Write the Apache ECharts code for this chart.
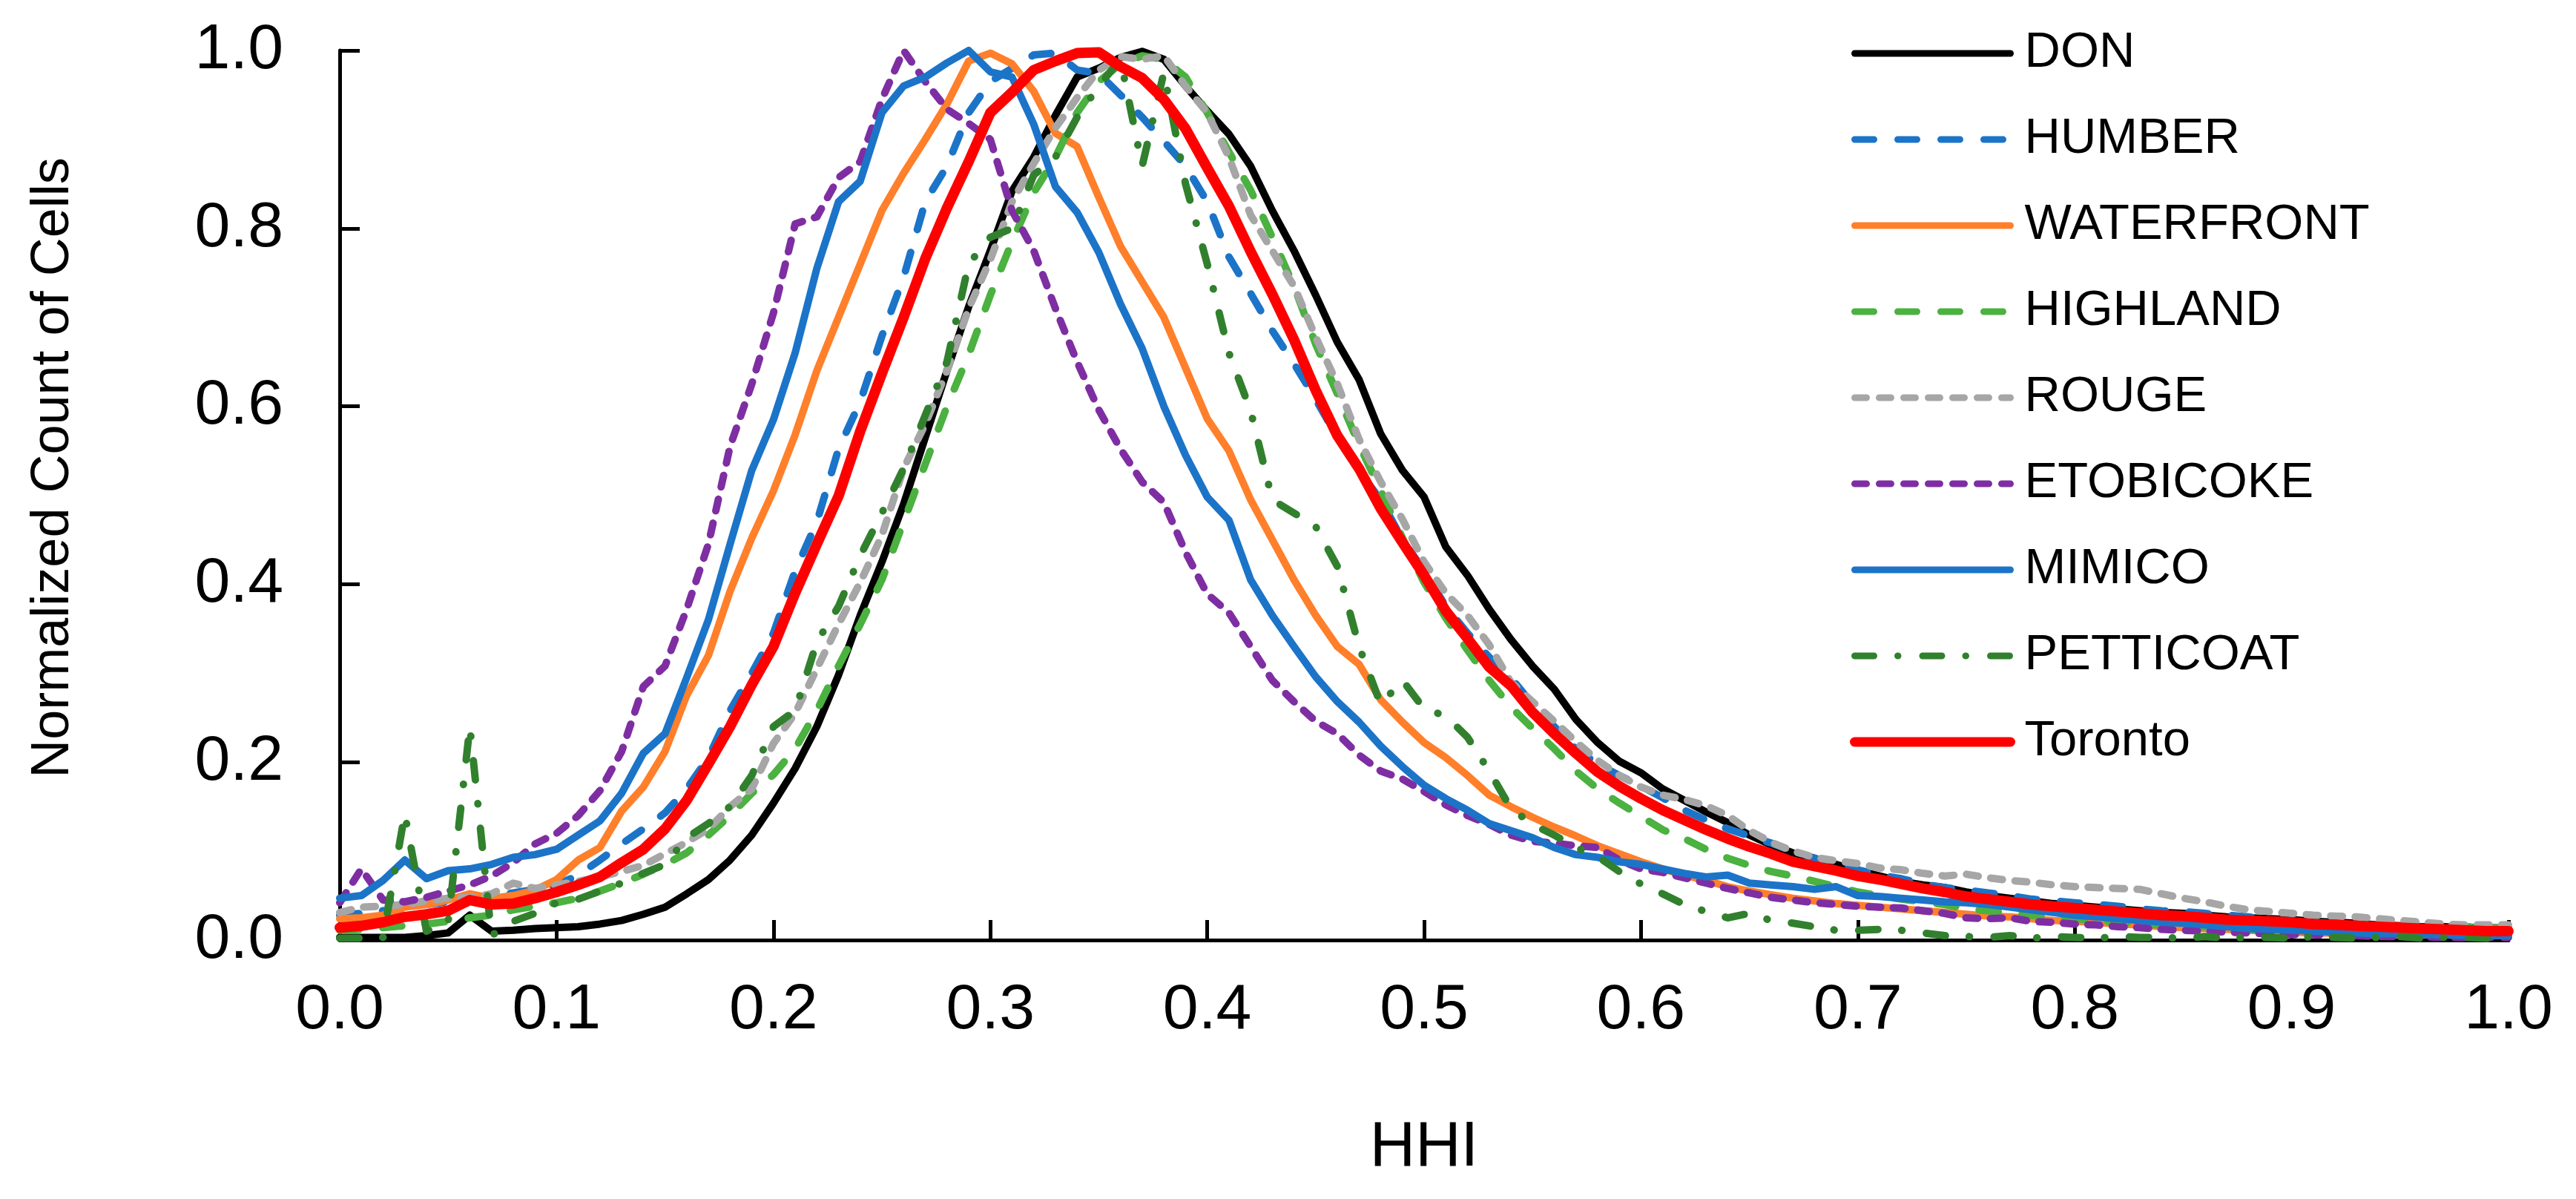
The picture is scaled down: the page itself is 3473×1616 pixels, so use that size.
<!DOCTYPE html>
<html>
<head>
<meta charset="utf-8">
<script src="https://cdn.jsdelivr.net/npm/echarts@6/dist/echarts.min.js"></script>
<style>
  html, body { margin: 0; padding: 0; background: #fff; }
  #chart { width: 3473px; height: 1616px; }
</style>
</head>
<body>
<div id="chart"></div>
<script>
// HHI grid, one point every 0.01
const HHI = Array.from({ length: 101 }, (_, i) => +(i * 0.01).toFixed(2));

const DON = [0.003,0.003,0.003,0.003,0.005,0.008,0.028,0.010,0.011,0.013,
  0.014,0.015,0.018,0.022,0.029,0.037,0.052,0.068,0.090,0.118,
  0.154,0.193,0.240,0.298,0.365,0.425,0.490,0.565,0.640,0.712,
  0.775,0.842,0.880,0.927,0.970,0.980,0.992,0.999,0.990,0.960,
  0.932,0.906,0.870,0.820,0.775,0.725,0.672,0.630,0.569,0.528,
  0.498,0.442,0.410,0.372,0.338,0.308,0.282,0.248,0.222,0.201,
  0.188,0.170,0.157,0.144,0.132,0.118,0.107,0.098,0.092,0.085,
  0.078,0.072,0.066,0.062,0.059,0.054,0.050,0.047,0.044,0.041,
  0.039,0.037,0.035,0.033,0.031,0.030,0.028,0.026,0.025,0.024,
  0.023,0.021,0.020,0.019,0.017,0.016,0.015,0.015,0.014,0.014,
  0.013];

const HUMBER = [0.028,0.030,0.033,0.036,0.040,0.043,0.046,0.050,0.053,0.057,
  0.062,0.073,0.090,0.108,0.125,0.143,0.170,0.205,0.258,0.300,
  0.345,0.415,0.470,0.552,0.605,0.679,0.745,0.830,0.870,0.930,
  0.965,0.980,0.995,0.997,0.978,0.974,0.950,0.925,0.898,0.870,
  0.830,0.768,0.727,0.685,0.648,0.608,0.565,0.527,0.495,0.450,
  0.415,0.375,0.345,0.318,0.295,0.265,0.240,0.215,0.198,0.185,
  0.173,0.160,0.146,0.135,0.125,0.117,0.109,0.100,0.092,0.085,
  0.079,0.073,0.069,0.063,0.059,0.056,0.053,0.050,0.046,0.044,
  0.042,0.040,0.038,0.035,0.033,0.032,0.030,0.028,0.026,0.023,
  0.021,0.019,0.018,0.017,0.016,0.015,0.014,0.013,0.012,0.011,
  0.011];

const WATERFRONT = [0.024,0.025,0.028,0.037,0.040,0.045,0.052,0.047,0.050,0.056,
  0.068,0.090,0.104,0.145,0.172,0.212,0.275,0.320,0.392,0.452,
  0.505,0.568,0.640,0.700,0.760,0.820,0.862,0.900,0.940,0.988,
  0.997,0.985,0.954,0.907,0.892,0.835,0.780,0.740,0.700,0.643,
  0.586,0.550,0.495,0.450,0.405,0.365,0.330,0.310,0.270,0.245,
  0.222,0.205,0.185,0.163,0.150,0.138,0.127,0.117,0.106,0.097,
  0.088,0.080,0.073,0.067,0.060,0.055,0.051,0.047,0.044,0.041,
  0.039,0.037,0.035,0.033,0.031,0.029,0.027,0.026,0.024,0.022,
  0.021,0.020,0.018,0.017,0.015,0.014,0.013,0.012,0.011,0.010,
  0.009,0.008,0.008,0.007,0.007,0.006,0.006,0.006,0.005,0.005,
  0.005];

const HIGHLAND = [0.011,0.012,0.014,0.016,0.018,0.021,0.025,0.028,0.034,0.038,
  0.042,0.047,0.055,0.064,0.074,0.085,0.098,0.118,0.140,0.165,
  0.186,0.215,0.258,0.308,0.355,0.405,0.470,0.535,0.600,0.658,
  0.725,0.785,0.840,0.880,0.930,0.965,0.985,0.994,0.990,0.970,
  0.930,0.886,0.843,0.790,0.735,0.670,0.614,0.557,0.505,0.452,
  0.402,0.362,0.326,0.292,0.262,0.238,0.215,0.190,0.170,0.154,
  0.139,0.124,0.114,0.102,0.092,0.084,0.077,0.072,0.066,0.060,
  0.054,0.050,0.046,0.043,0.040,0.035,0.033,0.030,0.028,0.026,
  0.024,0.022,0.020,0.018,0.017,0.016,0.015,0.013,0.012,0.011,
  0.011,0.010,0.010,0.010,0.010,0.011,0.013,0.016,0.015,0.014,
  0.014];

const ROUGE = [0.031,0.037,0.038,0.040,0.044,0.047,0.048,0.052,0.064,0.058,
  0.062,0.066,0.071,0.077,0.084,0.097,0.110,0.125,0.150,0.170,
  0.221,0.255,0.305,0.355,0.402,0.455,0.530,0.580,0.640,0.710,
  0.765,0.830,0.873,0.913,0.947,0.978,0.993,0.990,0.994,0.960,
  0.930,0.880,0.815,0.775,0.735,0.678,0.625,0.563,0.515,0.473,
  0.425,0.390,0.365,0.332,0.290,0.268,0.246,0.223,0.202,0.185,
  0.172,0.163,0.158,0.151,0.140,0.123,0.110,0.100,0.093,0.089,
  0.086,0.081,0.079,0.075,0.072,0.074,0.070,0.067,0.065,0.062,
  0.060,0.059,0.058,0.057,0.052,0.047,0.043,0.038,0.034,0.032,
  0.030,0.028,0.027,0.026,0.024,0.022,0.020,0.018,0.017,0.017,
  0.017];

const ETOBICOKE = [0.042,0.080,0.045,0.043,0.048,0.055,0.062,0.072,0.087,0.108,
  0.120,0.140,0.168,0.212,0.285,0.308,0.372,0.445,0.555,0.625,
  0.705,0.805,0.813,0.857,0.875,0.945,1.000,0.965,0.934,0.918,
  0.900,0.820,0.775,0.710,0.650,0.596,0.552,0.515,0.492,0.436,
  0.389,0.368,0.330,0.292,0.268,0.246,0.232,0.208,0.190,0.181,
  0.167,0.152,0.140,0.130,0.118,0.111,0.109,0.106,0.104,0.090,
  0.080,0.076,0.070,0.064,0.058,0.053,0.048,0.045,0.042,0.040,
  0.038,0.037,0.036,0.033,0.030,0.025,0.024,0.025,0.021,0.020,
  0.018,0.017,0.015,0.014,0.012,0.011,0.010,0.009,0.008,0.007,
  0.006,0.006,0.005,0.005,0.004,0.004,0.004,0.003,0.003,0.003,
  0.003];

const MIMICO = [0.047,0.050,0.067,0.090,0.069,0.078,0.080,0.085,0.093,0.096,
  0.102,0.118,0.134,0.165,0.210,0.232,0.295,0.360,0.445,0.528,
  0.585,0.660,0.755,0.830,0.853,0.930,0.960,0.970,0.986,1.000,
  0.976,0.970,0.917,0.847,0.818,0.773,0.715,0.665,0.600,0.545,
  0.498,0.472,0.405,0.365,0.330,0.296,0.268,0.245,0.218,0.195,
  0.174,0.159,0.146,0.131,0.123,0.115,0.104,0.096,0.093,0.088,
  0.085,0.080,0.075,0.071,0.073,0.064,0.062,0.060,0.057,0.060,
  0.050,0.049,0.047,0.045,0.043,0.042,0.040,0.037,0.034,0.031,
  0.028,0.026,0.024,0.022,0.020,0.019,0.017,0.015,0.013,0.012,
  0.011,0.010,0.009,0.008,0.007,0.007,0.006,0.006,0.005,0.005,
  0.005];

const PETTICOAT = [0.002,0.002,0.003,0.142,0.010,0.020,0.240,0.005,0.021,0.030,
  0.042,0.046,0.055,0.064,0.075,0.085,0.115,0.131,0.150,0.185,
  0.240,0.258,0.335,0.375,0.432,0.480,0.530,0.590,0.650,0.760,
  0.790,0.800,0.860,0.880,0.925,0.960,0.990,0.870,0.975,0.850,
  0.760,0.660,0.595,0.495,0.480,0.465,0.420,0.330,0.265,0.292,
  0.260,0.252,0.228,0.190,0.148,0.130,0.118,0.104,0.094,0.077,
  0.063,0.052,0.040,0.032,0.025,0.030,0.022,0.019,0.015,0.011,
  0.011,0.012,0.011,0.008,0.005,0.004,0.003,0.005,0.002,0.004,
  0.003,0.002,0.004,0.003,0.003,0.002,0.004,0.002,0.003,0.003,
  0.002,0.004,0.003,0.002,0.003,0.004,0.002,0.003,0.003,0.002,
  0.003];

const TORONTO = [0.014,0.016,0.020,0.026,0.029,0.033,0.045,0.040,0.041,0.047,
  0.054,0.062,0.071,0.087,0.102,0.125,0.157,0.198,0.240,0.287,
  0.330,0.390,0.445,0.499,0.572,0.637,0.700,0.766,0.823,0.875,
  0.930,0.953,0.978,0.988,0.997,0.998,0.982,0.969,0.945,0.912,
  0.868,0.825,0.774,0.726,0.675,0.618,0.567,0.530,0.485,0.447,
  0.410,0.370,0.339,0.307,0.286,0.256,0.232,0.210,0.189,0.173,
  0.159,0.146,0.135,0.124,0.114,0.105,0.097,0.088,0.083,0.078,
  0.072,0.068,0.063,0.058,0.054,0.049,0.046,0.043,0.040,0.038,
  0.036,0.034,0.032,0.030,0.028,0.027,0.025,0.023,0.022,0.021,
  0.020,0.018,0.017,0.016,0.015,0.014,0.013,0.012,0.011,0.010,
  0.010];

const FONT = 'Liberation Sans, Arial, sans-serif';
const LONG_DASH = [26, 32];
const SHORT_DASH = [16, 17];
const DASH_DOT = [26, 32, 0.5, 33];

const SERIES = [
  { name: 'DON',        values: DON,        color: '#000000', type: 'solid',    width: 10 },
  { name: 'HUMBER',     values: HUMBER,     color: '#1B74C8', type: LONG_DASH,  width: 10 },
  { name: 'WATERFRONT', values: WATERFRONT, color: '#FF7F2A', type: 'solid',    width: 10 },
  { name: 'HIGHLAND',   values: HIGHLAND,   color: '#4BB140', type: LONG_DASH,  width: 10 },
  { name: 'ROUGE',      values: ROUGE,      color: '#A6A6A6', type: SHORT_DASH, width: 10 },
  { name: 'ETOBICOKE',  values: ETOBICOKE,  color: '#7E2EA2', type: SHORT_DASH, width: 10 },
  { name: 'MIMICO',     values: MIMICO,     color: '#1B74C8', type: 'solid',    width: 10 },
  { name: 'PETTICOAT',  values: PETTICOAT,  color: '#31802D', type: DASH_DOT,   width: 10 },
  { name: 'Toronto',    values: TORONTO,    color: '#FF0000', type: 'solid',    width: 14 },
];

const chart = echarts.init(document.getElementById('chart'), null, { renderer: 'canvas' });

const series = SERIES.map(s => ({
  name: s.name,
  type: 'line',
  data: HHI.map((h, i) => [h, s.values[i]]),
  symbol: 'none',
  showSymbol: false,
  smooth: false,
  itemStyle: { color: s.color },
  lineStyle: { color: s.color, width: s.width, type: s.type, cap: 'round', join: 'round' },
  emphasis: { disabled: true },
}));

const axisLine = { show: true, lineStyle: { color: '#000', width: 5 } };
const axisTick = { show: true, inside: true, length: 27, lineStyle: { color: '#000', width: 5 } };

chart.setOption({
  animation: false,
  backgroundColor: '#fff',
  grid: { left: 458, right: 91, top: 68, bottom: 349, containLabel: false },
  legend: {
    orient: 'vertical',
    left: 2494,
    top: 32,
    padding: 0,
    itemWidth: 210,
    itemHeight: 2,
    itemGap: 36,
    itemStyle: { opacity: 0 },
    data: SERIES.map(s => ({
      name: s.name,
      lineStyle: { width: s.width - 1, type: s.type, color: s.color, cap: 'round' },
    })),
    textStyle: { fontFamily: FONT, fontSize: 67, color: '#000', lineHeight: 80, padding: [0, 0, 0, 14] },
    selectedMode: false,
  },
  xAxis: {
    type: 'value',
    min: 0,
    max: 1,
    interval: 0.1,
    name: 'HHI',
    nameLocation: 'middle',
    nameGap: 238,
    nameTextStyle: { fontFamily: FONT, fontSize: 85, color: '#000' },
    axisLine,
    axisTick,
    splitLine: { show: false },
    axisLabel: {
      fontFamily: FONT, fontSize: 86, color: '#000', margin: 52,
      formatter: v => v.toFixed(1),
    },
  },
  yAxis: {
    type: 'value',
    min: 0,
    max: 1,
    interval: 0.2,
    name: 'Normalized Count of Cells',
    nameLocation: 'middle',
    nameGap: 350,
    nameTextStyle: { fontFamily: FONT, fontSize: 72, color: '#000', padding: [0, 0, 0, 74] },
    axisLine,
    axisTick,
    splitLine: { show: false },
    axisLabel: {
      fontFamily: FONT, fontSize: 86, color: '#000', margin: 76,
      formatter: v => v.toFixed(1),
    },
  },
  series,
});
</script>
</body>
</html>
